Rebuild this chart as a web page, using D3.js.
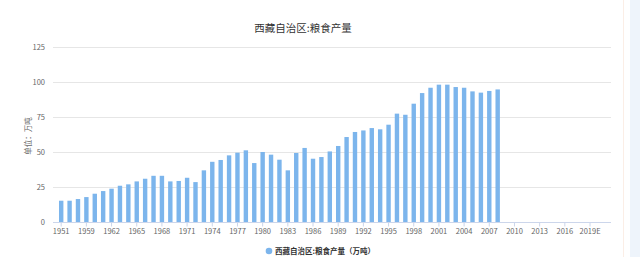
<!DOCTYPE html>
<html lang="zh">
<head>
<meta charset="UTF-8">
<title>西藏自治区:粮食产量</title>
<script src="https://d3js.org/d3.v7.min.js"></script>
<style>
    body { margin: 0; background: #fff; }
    text { font-family: "Noto Sans CJK SC", "Noto Sans", sans-serif; }
</style>
</head>
<body>
<div id="chart"></div>
<script>
    // years shown on the category axis (the last ones have no data yet)
    var years = ["1951", "1952", "1958"];
    for (var y = 1959; y <= 2018; y++) years.push(String(y));
    years.push("2019E", "2020E", "2021E");

    // grain output, 10k tonnes (1951 .. 2008)
    var output = [15.2, 15.2, 16.4, 17.8, 20.2, 22.1, 23.8, 25.9, 26.9, 29.0,
        30.9, 33.0, 33.0, 29.0, 29.3, 31.6, 28.5, 36.9, 43.0, 44.3,
        47.6, 49.5, 51.2, 42.1, 50.0, 48.1, 44.5, 36.9, 49.3, 52.9,
        45.2, 46.4, 50.4, 54.3, 60.7, 64.3, 65.4, 67.1, 66.2, 69.5,
        77.4, 76.6, 84.5, 92.1, 95.9, 98.1, 98.1, 96.4, 95.9, 93.3,
        92.4, 93.6, 94.7];

    var yTicks = [0, 25, 50, 75, 100, 125];

    var width = 640, height = 257;
    var margin = {left: 57, right: 29, top: 47, bottom: 35};

    var svg = d3.select("#chart").append("svg")
        .attr("width", width)
        .attr("height", height);

    // faint strip on the right edge
    svg.append("rect").attr("x", 623).attr("y", 0).attr("width", 1).attr("height", height).attr("fill", "#fbeee6");
    svg.append("rect").attr("x", 630).attr("y", 0).attr("width", 10).attr("height", height).attr("fill", "#eef4fb");

    var x = d3.scaleBand()
        .domain(years)
        .range([margin.left, width - margin.right]);

    var yScale = d3.scaleLinear()
        .domain([0, 125])
        .range([height - margin.bottom, margin.top]);

    // grid lines
    svg.append("g").selectAll("line")
        .data(yTicks.slice(1))
        .enter().append("line")
        .attr("x1", margin.left - 4)
        .attr("x2", width - margin.right)
        .attr("y1", function(d) { return Math.round(yScale(d)) + 0.5; })
        .attr("y2", function(d) { return Math.round(yScale(d)) + 0.5; })
        .attr("stroke", "#e6e6e6");

    // y labels
    svg.append("g").selectAll("text")
        .data(yTicks)
        .enter().append("text")
        .attr("x", 45)
        .attr("y", function(d) { return yScale(d); })
        .attr("dy", "0.35em")
        .attr("text-anchor", "end")
        .attr("font-size", "7.5px")
        .attr("fill", "#666")
        .text(function(d) { return d; });

    svg.append("text")
        .attr("transform", "translate(28," + 136 + ") rotate(-90)")
        .attr("text-anchor", "middle")
        .attr("dy", "0.35em")
        .attr("font-size", "7.5px")
        .attr("fill", "#666")
        .text("单位：万吨");

    // bars
    var barW = 4.4;
    svg.append("g").selectAll("rect")
        .data(output)
        .enter().append("rect")
        .attr("x", function(d, i) { return x(years[i]) + x.bandwidth() / 2 - barW / 2; })
        .attr("y", function(d) { return yScale(d); })
        .attr("width", barW)
        .attr("height", function(d) { return yScale(0) - yScale(d); })
        .attr("fill", "#7cb5ec");

    // x axis
    var base = Math.round(yScale(0)) + 0.5;
    svg.append("line")
        .attr("x1", margin.left - 4)
        .attr("x2", width - margin.right)
        .attr("y1", base).attr("y2", base)
        .attr("stroke", "#ccd6eb");

    var shown = years.filter(function(d, i) { return i % 3 === 0 && i <= 63; });
    var xt = svg.append("g").selectAll("g")
        .data(shown)
        .enter().append("g")
        .attr("transform", function(d) { return "translate(" + (x(d) + x.bandwidth() / 2) + ",0)"; });
    xt.append("line")
        .attr("y1", base).attr("y2", base + 4)
        .attr("stroke", "#ccd6eb");
    xt.append("text")
        .attr("y", base + 11)
        .attr("text-anchor", "middle")
        .attr("font-size", "7.5px")
        .attr("fill", "#666")
        .text(function(d) { return d; });

    // title
    svg.append("text")
        .attr("x", 303)
        .attr("y", 32)
        .attr("text-anchor", "middle")
        .attr("font-size", "10.5px")
        .attr("fill", "#333")
        .text("西藏自治区:粮食产量");

    // legend
    svg.append("circle")
        .attr("cx", 269).attr("cy", 251).attr("r", 3.3)
        .attr("fill", "#7cb5ec");
    svg.append("text")
        .attr("x", 275)
        .attr("y", 251)
        .attr("dy", "0.35em")
        .attr("font-size", "7.5px")
        .attr("font-weight", "bold")
        .attr("fill", "#333")
        .text("西藏自治区:粮食产量（万吨）");
</script>
</body>
</html>
